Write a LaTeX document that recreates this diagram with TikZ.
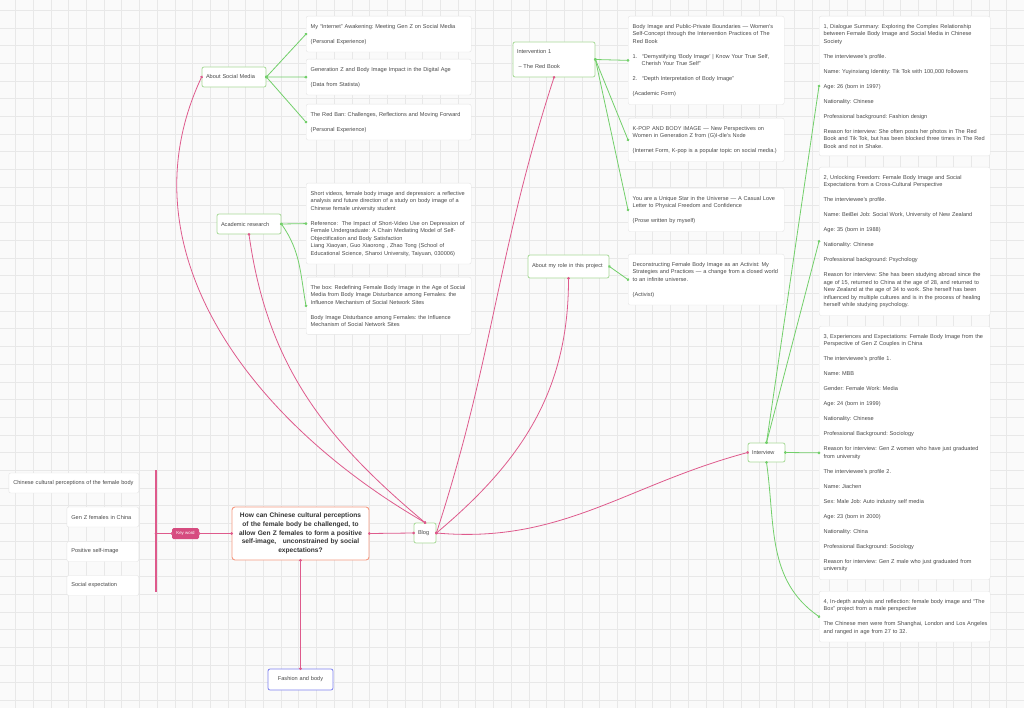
\documentclass[tikz,border=0pt]{standalone}
\usepackage{fontspec}
\setmainfont{Liberation Sans}
\usetikzlibrary{arrows.meta}
\frenchspacing
\hyphenpenalty=10000
\hfuzz=20pt
\definecolor{pinkline}{HTML}{DE5A8C}
\definecolor{keyfill}{HTML}{D64C80}
\definecolor{greenline}{HTML}{72CF6A}
\definecolor{greenedge}{HTML}{A8DA98}
\definecolor{mainedge}{HTML}{F59A82}
\definecolor{blueedge}{HTML}{7E82F0}
\definecolor{leafedge}{HTML}{E4E4E4}
\definecolor{gridgray}{HTML}{E8E8E8}
\definecolor{paper}{HTML}{FAFAFA}
\definecolor{inkgray}{HTML}{4A4A4A}
\newcommand{\pgap}{\\[7.5pt]}
\tikzset{
  leaf/.style={draw=leafedge, line width=0.4pt, fill=white, rounded corners=2pt, anchor=north west,
    align=left, inner xsep=4.5pt, inner ysep=7.8pt, text=inkgray, font=\fontsize{5.6}{7.5}\selectfont},
  kwbox/.style={leaf, anchor=east, inner ysep=0pt, minimum height=20pt},
  topic/.style={draw=greenedge, line width=0.8pt, fill=white, rounded corners=2pt, align=left,
    inner xsep=4pt, inner ysep=0pt, minimum height=20pt, text=inkgray, font=\fontsize{5.6}{7.5}\selectfont},
  question/.style={draw=mainedge, line width=0.9pt, fill=white, rounded corners=3pt, align=center,
    text width=129pt, inner xsep=4pt, minimum height=53pt, text=black!80,
    font=\bfseries\fontsize{6.6}{8.7}\selectfont},
  keytag/.style={fill=keyfill, rounded corners=1.5pt, text=white, font=\fontsize{4.4}{5}\selectfont,
    minimum width=27pt, minimum height=11pt, inner sep=0pt},
  dots/.style={{Circle[length=2.6pt]}-{Circle[length=2.6pt]}, shorten <=-1.3pt, shorten >=-1.3pt},
  pinklink/.style={draw=pinkline, line width=0.8pt, dots},
  greenlink/.style={draw=greenline, line width=0.8pt, dots},
}
\begin{document}
\begin{tikzpicture}[x=1pt,y=-1pt]
\useasboundingbox (0,0) rectangle (1024,708);
\fill[paper] (0,0) rectangle (1024,708);
\foreach \gx in {0,...,57} \draw[gridgray,line width=0.5pt] ({15.5+17.7*\gx},0) -- ({15.5+17.7*\gx},708);
\foreach \gy in {0,...,39} \draw[gridgray,line width=0.5pt] (0,{10.1+17.7*\gy}) -- (1024,{10.1+17.7*\gy});

\node[question] (question) at (300.5,533.5) {How can Chinese cultural perceptions\\ of the female body be challenged, to\\ allow Gen Z females to form a positive\\ self-image,\quad unconstrained by social\\ expectations?};
\node[keytag] (keyword) at (185.5,533.5) {Key word};
\coordinate (bartop) at (156,470);
\coordinate (barmid) at (156,533.5);
\coordinate (barbot) at (156,592);
\draw[pinkline, line width=2pt] (bartop) -- (barbot);
\node[kwbox, text width=121pt] (kw1) at (139,483) {Chinese cultural perceptions of the female body};
\node[kwbox, text width=63pt] (kw2) at (139,517) {Gen Z females in China};
\node[kwbox, text width=63pt] (kw3) at (139,551.5) {Positive self-image};
\node[kwbox, text width=63pt] (kw4) at (139,585.5) {Social expectation};

\node[topic, text width=14pt] (blog) at (425,533) {Blog};
\node[topic, draw=blueedge, align=center, text width=57pt, minimum height=21pt] (fashion) at (300.5,679.5) {Fashion and body};
\node[topic, text width=56pt] (social) at (234,77) {About Social Media};
\node[topic, text width=56pt] (academic) at (249,224) {Academic research};
\node[topic, text width=74pt, minimum height=35pt] (intervention) at (554,59.5) {Intervention 1\pgap\hspace*{1.5pt}– The Red Book};
\node[topic, text width=73pt, minimum height=23pt] (role) at (568.5,266.5) {About my role in this project};
\node[topic, text width=29pt, minimum height=19pt] (interview) at (766.5,452.5) {Interview};

\node[leaf, text width=156pt] (smA) at (306,16) {My “Internet” Awakening: Meeting Gen Z on Social Media\pgap (Personal Experience)};
\node[leaf, text width=156pt] (smB) at (306,59) {Generation Z and Body Image Impact in the Digital Age\pgap (Data from Statista)};
\node[leaf, text width=156pt] (smC) at (306,104) {The Red Ban: Challenges, Reflections and Moving Forward\pgap (Personal Experience)};
\node[leaf, text width=156pt] (arD) at (306,183) {Short videos, female body image and depression: a reflective\\ analysis and future direction of a study on body image of a\\ Chinese female university student\pgap Reference:\ \ The Impact of Short-Video Use on Depression of\\ Female Undergraduate: A Chain Mediating Model of Self-\\ Objectification and Body Satisfaction\\ Liang Xiaoyan, Guo Xiaorong , Zhao Tong (School of\\ Educational Science, Shanxi University, Taiyuan, 030006)};
\node[leaf, text width=156pt] (arE) at (306,277) {The box: Redefining Female Body Image in the Age of Social\\ Media from Body Image Disturbance among Females: the\\ Influence Mechanism of Social Network Sites\pgap Body Image Disturbance among Females: the Influence\\ Mechanism of Social Network Sites};

\node[leaf, text width=147pt] (rbF) at (628,16) {Body Image and Public-Private Boundaries — Women’s\\ Self-Concept through the Intervention Practices of The\\ Red Book\pgap 1.\hspace*{4.7pt}“Demystifying ‘Body Image’ | Know Your True Self,\\ \hspace*{9pt}Cherish Your True Self”\pgap 2.\hspace*{4.7pt}“Depth Interpretation of Body Image”\pgap (Academic Form)};
\node[leaf, text width=147pt] (rbG) at (628,118) {K-POP AND BODY IMAGE — New Perspectives on\\ Women in Generation Z from (G)I-dle’s Nxde\pgap (Internet Form, K-pop is a popular topic on social media.)};
\node[leaf, text width=147pt] (rbH) at (628,188) {You are a Unique Star in the Universe — A Casual Love\\ Letter to Physical Freedom and Confidence\pgap (Prose written by myself)};
\node[leaf, text width=147pt] (roleI) at (628,254) {Deconstructing Female Body Image as an Activist: My\\ Strategies and Practices — a change from a closed world\\ to an infinite universe.\pgap (Activist)};

\node[leaf, text width=162pt] (ivJ) at (819,16) {1, Dialogue Summary: Exploring the Complex Relationship\\ between Female Body Image and Social Media in Chinese\\ Society\pgap The interviewee’s profile.\pgap Name: Yuyinxiang Identity: Tik Tok with 100,000 followers\pgap Age: 26 (born in 1997)\pgap Nationality: Chinese\pgap Professional background: Fashion design\pgap Reason for interview: She often posts her photos in The Red\\ Book and Tik Tok, but has been blocked three times in The Red\\ Book and not in Shake.};
\node[leaf, text width=162pt] (ivK) at (819,167) {2, Unlocking Freedom: Female Body Image and Social\\ Expectations from a Cross-Cultural Perspective\pgap The interviewee’s profile.\pgap Name: BeiBei Job: Social Work, University of New Zealand\pgap Age: 35 (born in 1988)\pgap Nationality: Chinese\pgap Professional background: Psychology\pgap Reason for interview: She has been studying abroad since the\\ age of 15, returned to China at the age of 28, and returned to\\ New Zealand at the age of 34 to work. She herself has been\\ influenced by multiple cultures and is in the process of healing\\ herself while studying psychology.};
\node[leaf, text width=162pt] (ivL) at (819,326) {3, Experiences and Expectations: Female Body Image from the\\ Perspective of Gen Z Couples in China\pgap The interviewee’s profile 1.\pgap Name: MBB\pgap Gender: Female Work: Media\pgap Age: 24 (born in 1999)\pgap Nationality: Chinese\pgap Professional Background: Sociology\pgap Reason for interview: Gen Z women who have just graduated\\ from university\pgap The interviewee’s profile 2.\pgap Name: Jiachen\pgap Sex: Male Job: Auto industry self media\pgap Age: 23 (born in 2000)\pgap Nationality: China\pgap Professional Background: Sociology\pgap Reason for interview: Gen Z male who just graduated from\\ university};
\node[leaf, text width=162pt] (ivM) at (819,591) {4, In-depth analysis and reflection: female body image and “The\\ Box” project from a male perspective\pgap \mbox{The Chinese men were from Shanghai, London and Los Angeles}\\ and ranged in age from 27 to 32.};

\draw[pinklink] (question.west) -- (keyword.east);
\draw[pinklink] (keyword.west) -- (barmid);
\draw[pinklink] (question.east) -- (blog.west);
\draw[pinklink] (question.south) -- (fashion.north);
\draw[pinklink] (social.west) to[out=245,in=150] (blog.north);
\draw[pinklink] (academic.south) to[out=-82,in=140] (blog.north);
\draw[pinklink] (intervention.south) to[out=252,in=72] (blog.east);
\draw[pinklink] (role.south) to[out=-90,in=40] (blog.east);
\draw[pinklink] (blog.east) to[out=-5,in=195] (interview.west);

\foreach \leaf in {smA,smB,smC} \draw[greenlink] (social.east) -- (\leaf.west);
\draw[greenlink] (academic.east) -- (arD.west);
\draw[greenlink] (academic.east) to[out=-55,in=100] (arE.west);
\foreach \leaf in {rbF,rbG,rbH} \draw[greenlink] (intervention.east) -- (\leaf.west);
\draw[greenlink] (role.east) -- (roleI.west);
\draw[greenlink] (interview.north) -- (ivJ.west);
\draw[greenlink] (interview.north) -- (ivK.west);
\draw[greenlink] (interview.east) -- (ivL.west);
\draw[greenlink] (interview.south) to[out=-82,in=145] (ivM.west);
\end{tikzpicture}
\end{document}
